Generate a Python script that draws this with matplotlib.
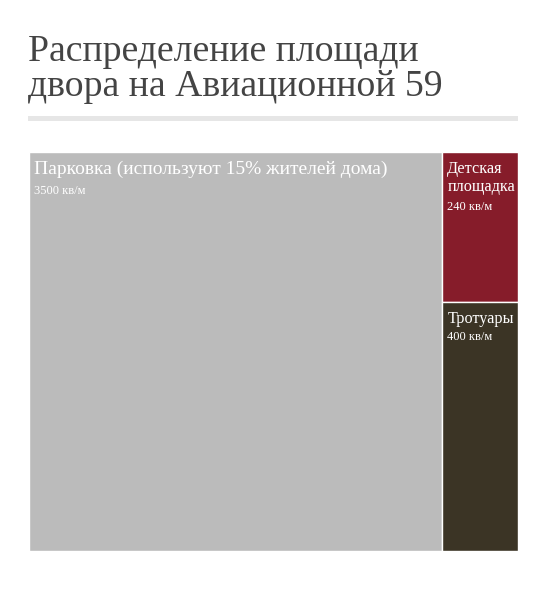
import matplotlib
matplotlib.use("Agg")
import matplotlib.pyplot as plt
from matplotlib.patches import Rectangle

title_lines = ["Распределение площади", "двора на Авиационной 59"]
categories = ["Парковка (используют 15% жителей дома)", "Детская\nплощадка", "Тротуары"]
values = [3500, 240, 400]
value_labels = ["3500 кв/м", "240 кв/м", "400 кв/м"]
colors = ["#bbbbbb", "#861c2a", "#3b3425"]

plt.rcParams['font.family'] = ['Liberation Serif', 'DejaVu Serif']

W, H = 541, 602
fig = plt.figure(figsize=(W / 100, H / 100), dpi=100)
fig.patch.set_facecolor("white")

# Title
fig.text(28 / W, 1 - 61 / H, title_lines[0], fontsize=27.2, color="#444444", va="baseline", ha="left")
fig.text(28 / W, 1 - 96 / H, title_lines[1], fontsize=27.2, color="#444444", va="baseline", ha="left")
# Divider bar
fig.patches.append(Rectangle((28 / W, 1 - 121 / H), 490 / W, 5 / H, transform=fig.transFigure,
                             facecolor="#e6e6e6", edgecolor="none"))

ax = fig.add_axes([29 / W, 1 - 551 / H, 489 / W, 399 / H])
ax.set_xlim(0, 1)
ax.set_ylim(1, 0)
ax.axis("off")

total = sum(values)
# slice: first item gets its own column, the rest stacked in second column
w0 = values[0] / total
rects = [(0.0, 0.0, w0, 1.0)]
rest = sum(values[1:])
y = 0.0
for v in values[1:]:
    h = v / rest
    rects.append((w0, y, 1 - w0, h))
    y += h

name_sizes = [14, 11.7, 11.7]
for (x, y0, w, h), c, name, vl, ns in zip(rects, colors, categories, value_labels, name_sizes):
    ax.add_patch(Rectangle((x, y0), w, h, facecolor=c, edgecolor="white", linewidth=1))
    ax.annotate(name, (x, y0), xytext=(3.5, -6.5), textcoords="offset points",
                ha="left", va="top", color="white", fontsize=ns, linespacing=1.2)
    nlines = name.count("\n") + 1
    off = -6.5 - ns * 1.2 * nlines - 0.5
    ax.annotate(vl, (x, y0), xytext=(3.5, off), textcoords="offset points",
                ha="left", va="top", color="white", fontsize=9)

fig.savefig("out.png", dpi=100)
